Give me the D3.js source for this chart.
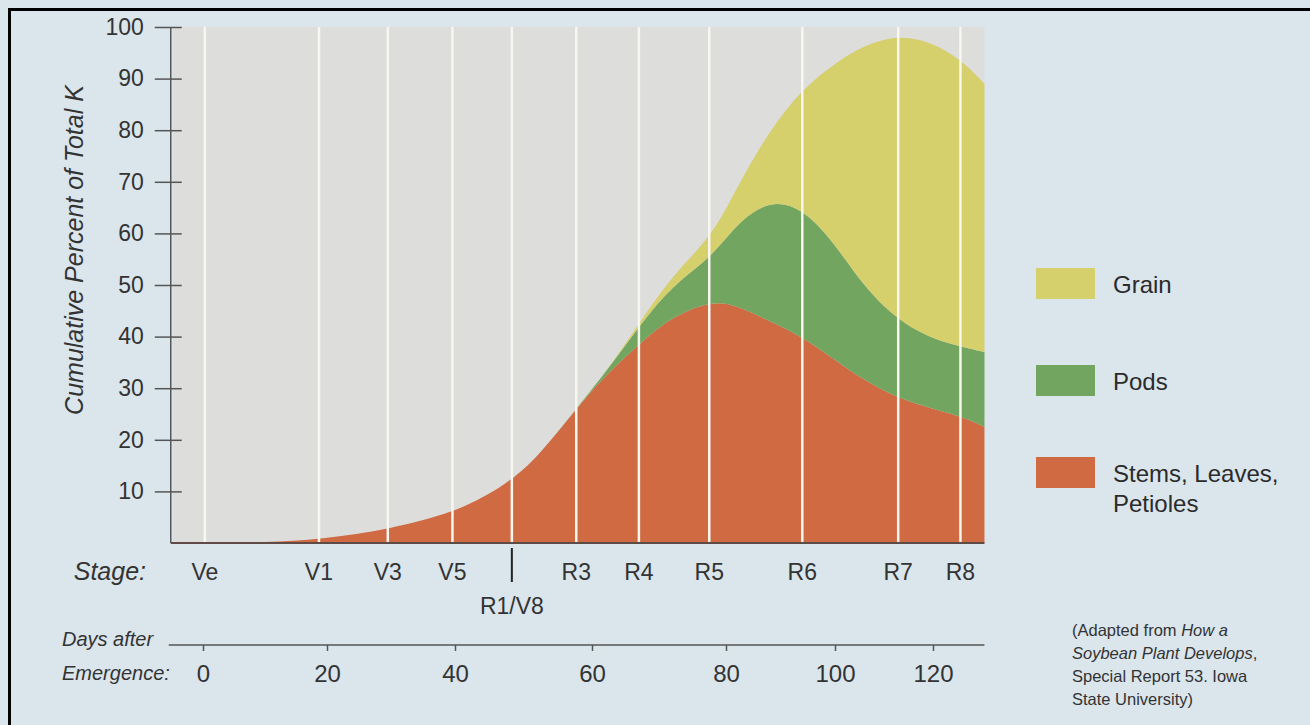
<!DOCTYPE html>
<html>
<head>
<meta charset="utf-8">
<script src="https://cdn.jsdelivr.net/npm/d3@7"></script>
<style>
  body { margin: 0; background: #dae5ec; }
  svg { display: block; font-family: "Liberation Sans", Arial, sans-serif; }
</style>
</head>
<body>
<div id="chart"></div>
<script>
// days after emergence at which the curves were read
var days   = [0, 10, 19, 30, 40, 45, 48, 52, 58, 62, 67, 72, 78, 82, 88, 94, 100, 106, 113, 120, 126, 130.5];
var stems  = [0, 0.1, 0.7, 2.7, 6, 9.5, 12, 16.5, 26.5, 32.5, 38.5, 44, 47, 46, 43, 40, 35.5, 31.5, 28, 26, 24.5, 22.5];
var pods   = [0, 0, 0, 0, 0, 0, 0, 0, 0, 0.5, 3.5, 6, 8.5, 16, 23.5, 25, 22.5, 18, 15, 13.5, 13.5, 14.5];
var grain  = [0, 0, 0, 0, 0, 0, 0, 0, 0, 0, 0.5, 2, 4, 7, 13.5, 23, 35, 47, 55.5, 57.5, 55.5, 52];

var stages    = ["Ve", "V1", "V3", "V5", "R1/V8", "R3", "R4", "R5", "R6", "R7", "R8"];
var stageDays = [0.3, 18.7, 29.5, 39.6, 48.3, 57.7, 67, 77.5, 94, 112.9, 125.6];

var dayTicks = [0, 20, 40, 60, 80, 100, 120];
var yTicks   = [10, 20, 30, 40, 50, 60, 70, 80, 90, 100];

var seriesNames  = ["Stems, Leaves, Petioles", "Pods", "Grain"];
var seriesColors = ["#cf6a42", "#72a55f", "#d5cf6c"];

var W = 1310, H = 725;
var svg = d3.select("#chart").append("svg").attr("width", W).attr("height", H);

svg.append("rect").attr("width", W).attr("height", H).attr("fill", "#dae5ec");
// black frame of the scan (top and left)
svg.append("line").attr("x1", 8).attr("x2", W).attr("y1", 9.5).attr("y2", 9.5)
  .attr("stroke", "#000").attr("stroke-width", 3);
svg.append("line").attr("x1", 9.5).attr("x2", 9.5).attr("y1", 8).attr("y2", H)
  .attr("stroke", "#000").attr("stroke-width", 3);

// the printed chart spaces the days unevenly, so the x scale is piecewise
var x = d3.scaleLinear()
  .domain(dayTicks)
  .range([203, 327, 455, 592, 726, 835, 933]);
var y = d3.scaleLinear().domain([0, 100]).range([543, 27]);

var xStart = -5.2, xEnd = 130.5;

// plot background
svg.append("rect")
  .attr("x", x(xStart) + 2).attr("y", y(100))
  .attr("width", x(xEnd) - x(xStart) - 2).attr("height", y(0) - y(100))
  .attr("fill", "#dddddc");

// stacked areas
var table = days.map(function(d, i) {
  return { day: d, s0: stems[i], s1: pods[i], s2: grain[i] };
});
var stack = d3.stack().keys(["s0", "s1", "s2"]);
var layers = stack(table);

var area = d3.area()
  .x(function(d) { return x(d.data.day); })
  .y0(function(d) { return y(d[0]); })
  .y1(function(d) { return y(d[1]); })
  .curve(d3.curveBasis);

svg.selectAll("path.layer")
  .data(layers)
  .enter().append("path")
  .attr("class", "layer")
  .attr("d", area)
  .attr("fill", function(d, i) { return seriesColors[i]; });

// white stage lines
svg.selectAll("line.stage")
  .data(stageDays)
  .enter().append("line")
  .attr("class", "stage")
  .attr("x1", function(d) { return x(d); })
  .attr("x2", function(d) { return x(d); })
  .attr("y1", y(100)).attr("y2", y(0))
  .attr("stroke", "#f7f6ef").attr("stroke-width", 2.5);

// baseline
svg.append("line")
  .attr("x1", x(xStart)).attr("x2", x(xEnd))
  .attr("y1", y(0)).attr("y2", y(0))
  .attr("stroke", "#5e4b48").attr("stroke-width", 2);

// y axis
var yAxis = svg.append("g")
  .attr("transform", "translate(" + x(xStart) + ",0)")
  .call(d3.axisLeft(y).tickValues(yTicks).tickSize(16).tickPadding(11));
yAxis.select(".domain").remove();
yAxis.append("line").attr("y1", y(100)).attr("y2", y(0))
  .attr("stroke", "#555").attr("stroke-width", 1.5);
yAxis.selectAll(".tick line").attr("x1", 11).attr("stroke", "#555").attr("stroke-width", 1.5);
yAxis.selectAll(".tick text")
  .attr("fill", "#333").style("font-size", "23px")
  .style("font-family", "'Liberation Sans', Arial, sans-serif");

svg.append("text")
  .attr("transform", "translate(83," + 250 + ") rotate(-90)")
  .attr("text-anchor", "middle")
  .attr("fill", "#333")
  .style("font-size", "25px").style("font-style", "italic")
  .text("Cumulative Percent of Total K");

// stage labels
svg.append("text").attr("x", 146).attr("y", 580).attr("text-anchor", "end")
  .attr("fill", "#333").style("font-size", "25px").style("font-style", "italic")
  .text("Stage:");

svg.selectAll("text.stageLabel")
  .data(stages)
  .enter().append("text")
  .attr("class", "stageLabel")
  .attr("x", function(d, i) { return x(stageDays[i]); })
  .attr("y", function(d) { return d === "R1/V8" ? 614 : 580; })
  .attr("text-anchor", "middle")
  .attr("fill", "#333").style("font-size", "23px")
  .text(function(d) { return d; });

var r1 = stageDays[stages.indexOf("R1/V8")];
svg.append("line")
  .attr("x1", x(r1)).attr("x2", x(r1)).attr("y1", 548).attr("y2", 582)
  .attr("stroke", "#222").attr("stroke-width", 2);

// days after emergence axis
svg.append("line")
  .attr("x1", x(xStart) - 2).attr("x2", x(xEnd))
  .attr("y1", 645).attr("y2", 645)
  .attr("stroke", "#555").attr("stroke-width", 1.5);
var dAxis = svg.append("g")
  .attr("transform", "translate(0,645)")
  .call(d3.axisBottom(x).tickValues(dayTicks).tickSize(6).tickPadding(14));
dAxis.select(".domain").remove();
dAxis.selectAll(".tick line").attr("stroke", "#555").attr("stroke-width", 1.5);
dAxis.selectAll(".tick text")
  .attr("fill", "#333").style("font-size", "24px")
  .style("font-family", "'Liberation Sans', Arial, sans-serif");

svg.append("text").attr("x", 62).attr("y", 646)
  .attr("fill", "#333").style("font-size", "20px").style("font-style", "italic")
  .text("Days after");
svg.append("text").attr("x", 62).attr("y", 680)
  .attr("fill", "#333").style("font-size", "20px").style("font-style", "italic")
  .text("Emergence:");

// legend
var legend = [
  { name: seriesNames[2], color: seriesColors[2], top: 268, lines: ["Grain"] },
  { name: seriesNames[1], color: seriesColors[1], top: 365, lines: ["Pods"] },
  { name: seriesNames[0], color: seriesColors[0], top: 457, lines: ["Stems, Leaves,", "Petioles"] }
];
var lg = svg.selectAll("g.legend").data(legend).enter().append("g").attr("class", "legend");
lg.append("rect")
  .attr("x", 1036).attr("y", function(d) { return d.top; })
  .attr("width", 59).attr("height", 31)
  .attr("fill", function(d) { return d.color; });
lg.each(function(d) {
  var g = d3.select(this);
  d.lines.forEach(function(t, k) {
    g.append("text").attr("x", 1113).attr("y", d.top + 25 + k * 30)
      .attr("fill", "#2b2b2b").style("font-size", "24px").text(t);
  });
});

// source note
var note = svg.append("text").attr("fill", "#333").style("font-size", "16.5px");
var noteLines = [
  [["(Adapted from ", false], ["How a", true]],
  [["Soybean Plant Develops", true], [",", false]],
  [["Special Report 53. Iowa", false]],
  [["State University)", false]]
];
noteLines.forEach(function(parts, i) {
  var t = note.append("tspan").attr("x", 1072).attr("y", 636 + i * 23);
  parts.forEach(function(p, j) {
    var s = j === 0 ? t : note.append("tspan");
    s.text(p[0]).style("font-style", p[1] ? "italic" : "normal");
  });
});
</script>
</body>
</html>
